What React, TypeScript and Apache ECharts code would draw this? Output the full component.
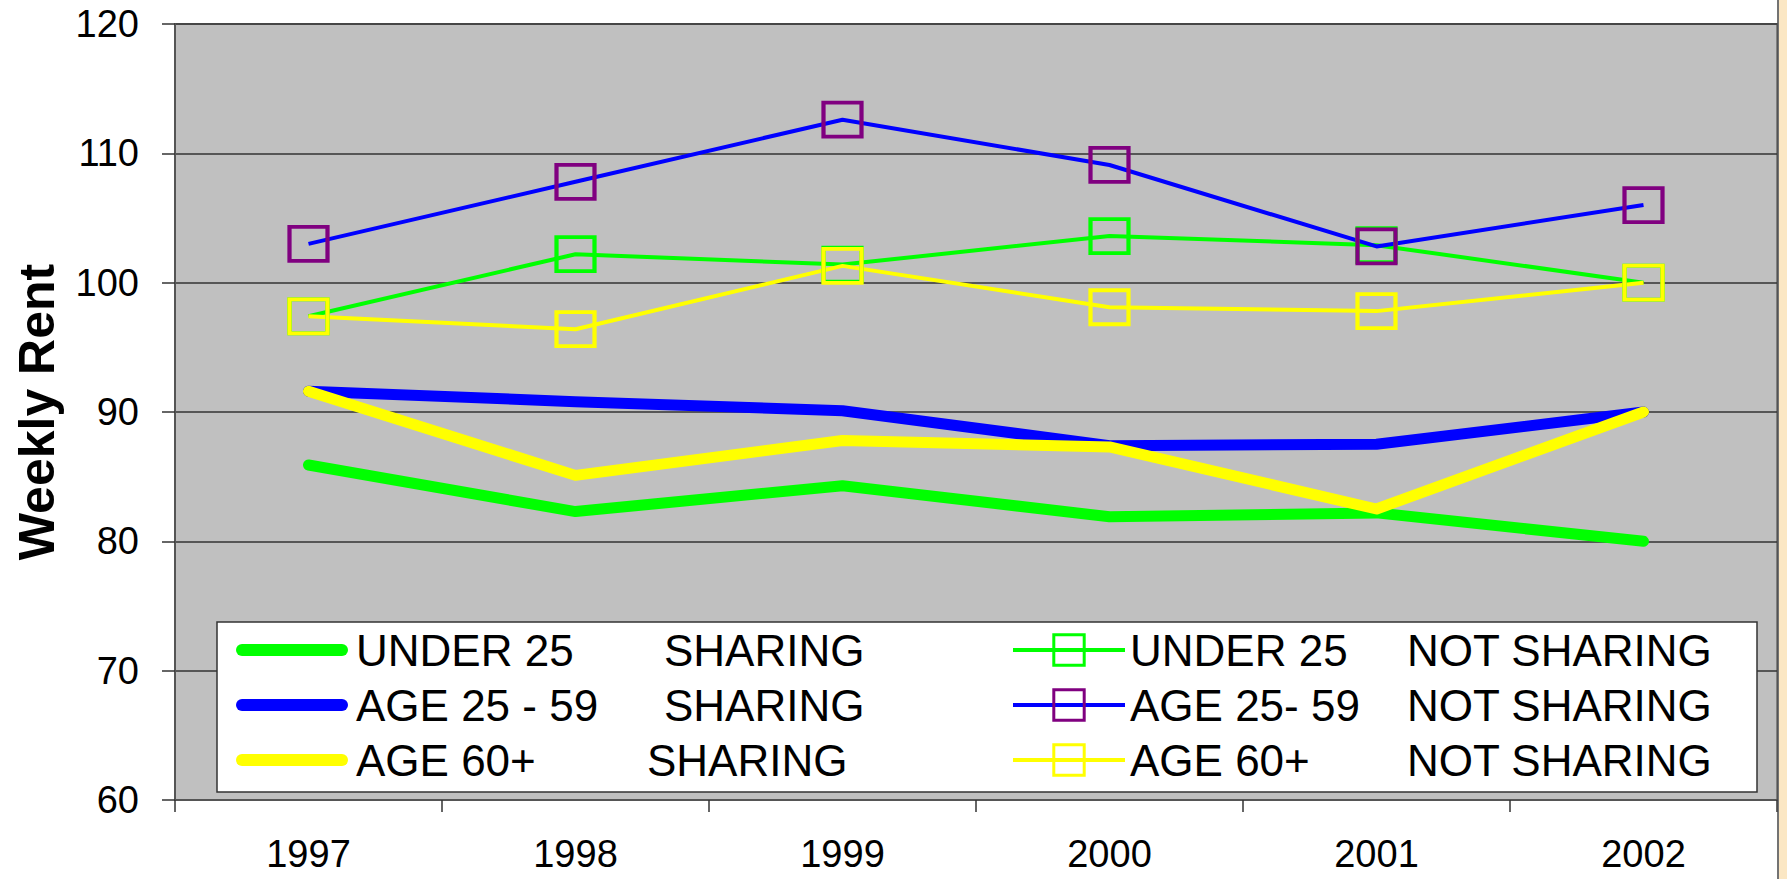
import React, { useEffect, useRef } from "react";
import * as echarts from "echarts";

const years = ["1997", "1998", "1999", "2000", "2001", "2002"];

const under25Sharing = [85.9, 82.3, 84.3, 81.9, 82.2, 80.0];
const age2559Sharing = [91.6, 90.8, 90.1, 87.4, 87.5, 90.0];
const age60Sharing = [91.6, 85.1, 87.8, 87.3, 82.5, 90.0];
const under25NotSharing = [97.4, 102.2, 101.4, 103.6, 102.9, 100.0];
const age2559NotSharing = [103.0, 107.8, 112.6, 109.1, 102.8, 106.0];
const age60NotSharing = [97.4, 96.4, 101.3, 98.1, 97.8, 100.0];

const sharingGroups = ["UNDER 25", "AGE 25 - 59", "AGE 60+"];
const notSharingGroups = ["UNDER 25", "AGE 25- 59", "AGE 60+"];
const sharingStatus = "SHARING";
const notSharingStatus = "NOT SHARING";

const yTicks = [60, 70, 80, 90, 100, 110, 120];

const FONT = "'Liberation Sans', Arial, Helvetica, sans-serif";

export default function App() {
  const ref = useRef<HTMLDivElement>(null);

  useEffect(() => {
    if (!ref.current) return;
    const chart = echarts.init(ref.current, undefined, { renderer: "svg" });

    const sharingNames = sharingGroups.map((g) => g + " " + sharingStatus);
    const notSharingNames = notSharingGroups.map((g) => g + " " + notSharingStatus);
    const sharingData = [under25Sharing, age2559Sharing, age60Sharing];
    const notSharingData = [under25NotSharing, age2559NotSharing, age60NotSharing];
    const lineColors = ["#00FF00", "#0000FF", "#FFFF00"];
    const markerColors = ["#00FF00", "#800080", "#FFFF00"];
    const leftWidths = [308, 308, 291];
    const rightWidths = [277, 277, 277];

    const series: any[] = [];
    sharingNames.forEach((n, i) => {
      series.push({
        name: n,
        type: "line",
        data: sharingData[i],
        symbol: "none",
        showSymbol: false,
        color: lineColors[i],
        lineStyle: { width: 11, color: lineColors[i], cap: "round", join: "round" },
        z: 2,
      });
    });
    notSharingNames.forEach((n, i) => {
      series.push({
        name: n,
        type: "line",
        data: notSharingData[i],
        symbol: "rect",
        showSymbol: true,
        symbolSize: [38, 34],
        color: lineColors[i],
        lineStyle: { width: 4, color: lineColors[i] },
        itemStyle: { color: "rgba(0,0,0,0)", borderColor: markerColors[i], borderWidth: 4 },
        z: 3,
      });
    });

    const richLeft: any = { b: { fontSize: 44, lineHeight: 45, fontFamily: FONT, color: "#000" } };
    leftWidths.forEach((w, i) => {
      richLeft["a" + i] = { fontSize: 44, lineHeight: 45, width: w, fontFamily: FONT, color: "#000", padding: [0, 0, 0, 3] };
    });
    const richRight: any = { b: { fontSize: 44, lineHeight: 45, fontFamily: FONT, color: "#000" } };
    rightWidths.forEach((w, i) => {
      richRight["a" + i] = { fontSize: 44, lineHeight: 45, width: w, fontFamily: FONT, color: "#000" };
    });

    const option: any = {
      animation: false,
      backgroundColor: "#FFFFFF",
      textStyle: { fontFamily: FONT },
      grid: {
        left: 175,
        right: 10,
        top: 24,
        bottom: 79,
        containLabel: false,
        outerBoundsMode: "none",
        show: true,
        backgroundColor: "#C0C0C0",
        borderColor: "#808080",
        borderWidth: 2,
      },
      xAxis: {
        type: "category",
        data: years,
        boundaryGap: true,
        axisLine: { show: true, lineStyle: { color: "#555555", width: 2 } },
        axisTick: { show: true, length: 12, lineStyle: { color: "#333333", width: 1.5 } },
        axisLabel: { fontSize: 38, color: "#000", margin: 35, fontFamily: FONT },
        splitLine: { show: false },
      },
      yAxis: {
        type: "value",
        min: yTicks[0],
        max: yTicks[yTicks.length - 1],
        interval: 10,
        name: "Weekly Rent",
        nameLocation: "middle",
        nameRotate: 90,
        nameGap: 113,
        nameTextStyle: { fontSize: 50, fontWeight: "bold", color: "#000", fontFamily: FONT },
        axisLine: { show: true, lineStyle: { color: "#555555", width: 2 } },
        axisTick: { show: true, length: 13, lineStyle: { color: "#333333", width: 1.5 } },
        axisLabel: { fontSize: 38, color: "#000", margin: 36, fontFamily: FONT },
        splitLine: { show: true, lineStyle: { color: "#333333", width: 1.5 } },
      },
      legend: [
        {
          data: sharingNames,
          orient: "vertical",
          left: 236,
          top: 628,
          padding: 0,
          itemGap: 11,
          itemWidth: 112,
          itemHeight: 12,
          icon: "path://M6,0 H106 A6,6 0 0 1 106,12 H6 A6,6 0 0 1 6,0 Z",
          selectedMode: false,
          formatter: (name: string) => {
            const i = sharingNames.indexOf(name);
            return `{a${i}|${sharingGroups[i]}}{b|${sharingStatus}}`;
          },
          textStyle: { rich: richLeft, fontSize: 44, fontFamily: FONT },
          z: 10,
        },
        {
          data: notSharingNames,
          orient: "vertical",
          left: 1011,
          top: 628,
          padding: 0,
          itemGap: 11,
          itemWidth: 112,
          itemHeight: 38,
          selectedMode: false,
          lineStyle: { width: 4 },
          itemStyle: { borderWidth: 3 },
          formatter: (name: string) => {
            const i = notSharingNames.indexOf(name);
            return `{a${i}|${notSharingGroups[i]}}{b|${notSharingStatus}}`;
          },
          textStyle: { rich: richRight, fontSize: 44, fontFamily: FONT },
          z: 10,
        },
      ],
      graphic: [
        {
          type: "rect",
          z: 5,
          shape: { x: 217, y: 622, width: 1540, height: 170 },
          style: { fill: "#FFFFFF", stroke: "#333333", lineWidth: 1.5 },
        },
        {
          type: "rect",
          z: 5,
          shape: { x: 1779, y: 0, width: 8, height: 879 },
          style: { fill: "#FBE7C4" },
        },
        {
          type: "line",
          z: 5,
          shape: { x1: 1778, y1: 0, x2: 1778, y2: 879 },
          style: { stroke: "#444444", lineWidth: 1.5 },
        },
      ],
      series,
    };

    chart.setOption(option);
    return () => chart.dispose();
  }, []);

  return (
    <div
      ref={ref}
      style={{ position: "fixed", left: 0, top: 0, width: "1787px", height: "879px" }}
    />
  );
}
